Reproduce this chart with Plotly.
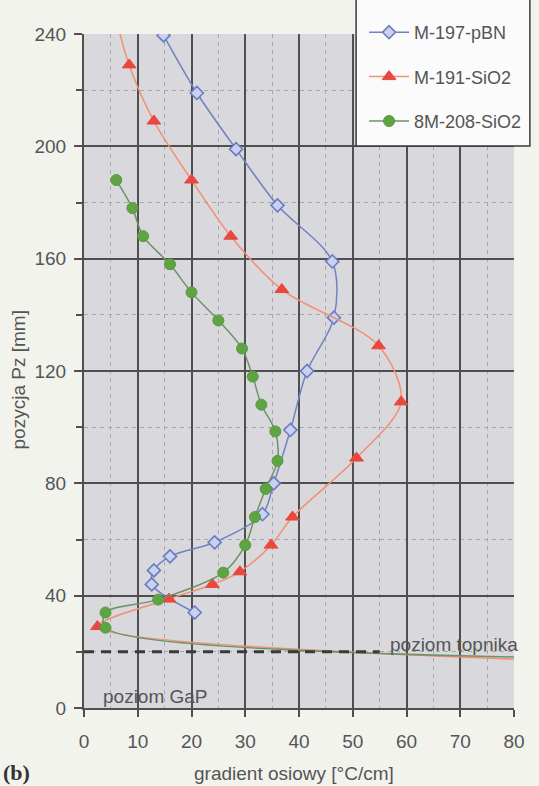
import plotly.graph_objects as go

# ---------------- data ----------------
series_names = ["M-197-pBN", "M-191-SiO2", "8M-208-SiO2"]

# M-197-pBN (blue diamonds)
pbn_x = [14.8, 21.0, 28.3, 36.0, 46.2, 46.5, 41.5, 38.4, 35.3, 33.2, 24.3, 16.0, 13.0, 12.6, 20.6]
pbn_y = [239.5, 219, 199, 179, 159, 139, 120, 99, 80, 69, 59, 54, 49, 44, 34]

# M-191-SiO2 (red triangles); first and last points lie outside the axis range
sio2_x = [5.5, 8.4, 13.0, 20.0, 27.3, 36.8, 54.8, 59.0, 50.7, 38.8, 34.8, 29.0, 23.9, 15.8, 2.5, 100.0]
sio2_y = [249, 229, 209, 188, 168, 149, 129, 109, 89, 68, 58, 48.5, 44, 38.8, 29, 16.0]

# 8M-208-SiO2 (green circles); last point lies outside the axis range
m208_x = [6.0, 9.0, 11.0, 16.0, 20.0, 25.0, 29.4, 31.4, 33.0, 35.6, 36.0, 33.8, 31.8, 30.0, 25.9, 13.8, 4.0, 4.0, 100.0]
m208_y = [188, 178, 168, 158, 148, 138, 128, 118, 108, 98.5, 88, 78, 68, 58, 48.2, 38.6, 34, 28.6, 17.5]

x_ticks = [0, 10, 20, 30, 40, 50, 60, 70, 80]
y_ticks = [0, 40, 80, 120, 160, 200, 240]

poziom_topnika = 20      # level of the melt (dashed line)
topnik_line_end = 55     # dashed line runs to where the label starts

FONT = "Liberation Sans, Arial, sans-serif"
TXT = "#555555"
GRID = "#4f4f4f"

fig = go.Figure()

fig.add_trace(go.Scatter(
    x=pbn_x, y=pbn_y, name=series_names[0], mode="lines+markers",
    line=dict(color="#7181c2", width=1.5, shape="spline", smoothing=0.9),
    marker=dict(symbol="diamond", size=10, color="#c9d1f0",
                line=dict(color="#6a7bc0", width=1.6)),
    legendgroup="a"))

fig.add_trace(go.Scatter(
    x=sio2_x, y=sio2_y, name=series_names[1], mode="lines+markers",
    line=dict(color="#f29073", width=1.5, shape="spline", smoothing=0.9),
    marker=dict(symbol="triangle-up", size=12, color="#e8483e",
                line=dict(color="#e8483e", width=1)),
    legendgroup="b"))

fig.add_trace(go.Scatter(
    x=m208_x, y=m208_y, name=series_names[2], mode="lines+markers",
    line=dict(color="#6f9266", width=1.5, shape="spline", smoothing=0.9),
    marker=dict(symbol="circle", size=11, color="#5ea443",
                line=dict(color="#5a9a40", width=1)),
    legendgroup="c"))

W = 539 - 84 - 22
H = 786 - 34 - 78

def px(x):
    return (x - 84) / W

def py(y):
    return (708 - y) / H

fig.update_layout(
    width=539, height=786,
    margin=dict(l=84, r=22, t=34, b=78, pad=0),
    paper_bgcolor="#f3f3ee",
    plot_bgcolor="#d8d8dd",
    font=dict(family=FONT, size=19, color=TXT),
    showlegend=True,
    legend=dict(x=px(366), y=py(14), xanchor="left", yanchor="top",
                bgcolor="rgba(0,0,0,0)", borderwidth=0,
                font=dict(size=18, color=TXT, family=FONT),
                tracegroupgap=18, itemwidth=40),
    xaxis=dict(range=[0, 80], tickvals=x_ticks, ticktext=[str(v) for v in x_ticks],
               showgrid=True, gridcolor=GRID, gridwidth=1.6,
               minor=dict(dtick=5, showgrid=True, gridcolor="#a7a7ae",
                          griddash="4px,4px", gridwidth=1),
               ticks="outside", ticklen=7, tickwidth=1.5, tickcolor=GRID,
               showline=True, linecolor=GRID, linewidth=2, zeroline=False,
               tickfont=dict(size=19, color=TXT), ticklabelstandoff=8),
    yaxis=dict(range=[0, 240], tickvals=y_ticks, ticktext=[str(v) for v in y_ticks],
               showgrid=True, gridcolor=GRID, gridwidth=1.6,
               minor=dict(dtick=20, showgrid=True, gridcolor="#a7a7ae",
                          griddash="4px,4px", gridwidth=1,
                          ticks="outside", ticklen=6, tickcolor=GRID, tickwidth=1.5),
               ticks="outside", ticklen=8, tickwidth=1.5, tickcolor=GRID,
               showline=True, linecolor=GRID, linewidth=2, zeroline=False,
               tickfont=dict(size=19, color=TXT), ticklabelstandoff=4),
)

# legend frame
fig.add_shape(type="rect", xref="paper", yref="paper",
              x0=px(358), x1=px(533), y0=py(146), y1=py(-4),
              fillcolor="#fbfbfb", line=dict(color="#3a3a3a", width=1.5), layer="above")

# melt level dashed line
fig.add_shape(type="line", xref="x", yref="y",
              x0=0, x1=topnik_line_end, y0=poziom_topnika, y1=poziom_topnika,
              line=dict(color="#3a3a3a", width=3, dash="10px,7px"), layer="above")

fig.add_annotation(x=56.5, y=poziom_topnika + 2.6, xref="x", yref="y",
                   text="poziom topnika", showarrow=False, xanchor="left", yanchor="middle",
                   font=dict(size=19, color=TXT))
fig.add_annotation(x=3.2, y=4.0, xref="x", yref="y",
                   text="poziom GaP", showarrow=False, xanchor="left", yanchor="middle",
                   font=dict(size=19, color=TXT))

fig.add_annotation(x=px(18), y=py(380), xref="paper", yref="paper",
                   text="pozycja Pz [mm]", textangle=-90, showarrow=False,
                   xanchor="center", yanchor="middle", font=dict(size=19, color=TXT))
fig.add_annotation(x=px(295), y=py(773), xref="paper", yref="paper",
                   text="gradient osiowy [°C/cm]", showarrow=False,
                   xanchor="center", yanchor="middle", font=dict(size=19, color=TXT))
fig.add_annotation(x=px(0), y=py(772), xref="paper", yref="paper",
                   text="<b>(b)</b>", showarrow=False, xanchor="left", yanchor="middle",
                   font=dict(size=22, color="#333333", family="Liberation Serif, serif"))

fig.write_html("out.html",
               config={"displayModeBar": False},
               post_script="document.body.style.margin='0px';document.body.style.overflow='hidden';")
